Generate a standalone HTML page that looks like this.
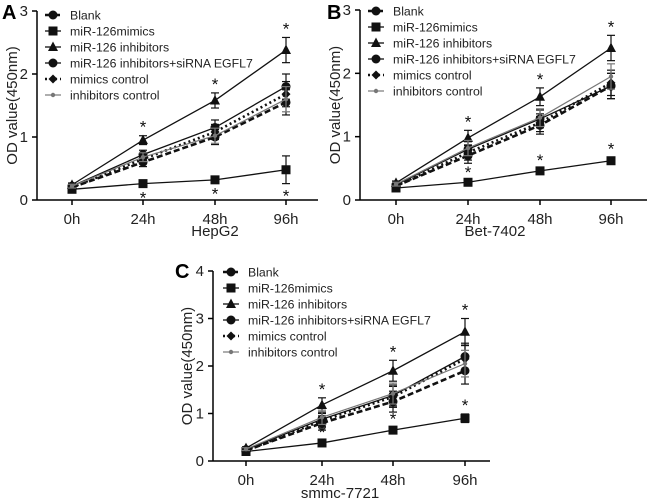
<!DOCTYPE html>
<html><head><meta charset="utf-8"><style>
html,body{margin:0;padding:0;background:#fff;}
svg{display:block;font-family:"Liberation Sans",Arial,sans-serif;}
</style></head><body>
<svg id="fig" width="650" height="500" viewBox="0 0 650 500"></svg>
<script>
const categories = ["0h","24h","48h","96h"];
const seriesNames = ["Blank","miR-126mimics","miR-126 inhibitors","miR-126 inhibitors+siRNA EGFL7","mimics control","inhibitors control"];
// Panel A (HepG2)
const aBlank = [0.2,0.6,1.0,1.55];
const aMimics = [0.17,0.26,0.32,0.48];
const aInhib = [0.24,0.95,1.58,2.38];
const aInhSi = [0.22,0.72,1.15,1.8];
const aMimCtrl = [0.2,0.65,1.08,1.68];
const aInhCtrl = [0.22,0.68,1.02,1.6];
const aErr = [0.03,0.07,0.12,0.2];
const aMimErr = [0.02,0.03,0.03,0.22];
// Panel B (Bet-7402)
const bBlank = [0.22,0.7,1.18,1.8];
const bMimics = [0.19,0.28,0.46,0.62];
const bInhib = [0.27,0.98,1.63,2.4];
const bInhSi = [0.24,0.8,1.28,1.8];
const bMimCtrl = [0.22,0.75,1.22,1.85];
const bInhCtrl = [0.25,0.82,1.3,1.95];
const bErr = [0.03,0.12,0.14,0.2];
const bMimErr = [0.02,0.02,0.03,0.05];
// Panel C (smmc-7721)
const cBlank = [0.22,0.8,1.25,1.9];
const cMimics = [0.2,0.38,0.65,0.9];
const cInhib = [0.27,1.18,1.9,2.72];
const cInhSi = [0.24,0.88,1.38,2.2];
const cMimCtrl = [0.22,0.85,1.35,2.15];
const cInhCtrl = [0.25,0.92,1.42,2.05];
const cErr = [0.03,0.15,0.22,0.28];
const cMimErr = [0.02,0.04,0.06,0.09];
const aTicks = [0,1,2,3], bTicks=[0,1,2,3], cTicks=[0,1,2,3,4];

const NS="http://www.w3.org/2000/svg";
const svg=document.getElementById('fig');
function mk(tag,attrs,parent){const e=document.createElementNS(NS,tag);for(const k in attrs)e.setAttribute(k,attrs[k]);(parent||svg).appendChild(e);return e;}
const styles=[
 {dash:"6,3",w:2.6,col:"#111",mk:"circle"},
 {dash:"",w:1.3,col:"#111",mk:"square"},
 {dash:"",w:1.3,col:"#111",mk:"triangle"},
 {dash:"",w:1.3,col:"#111",mk:"circle"},
 {dash:"2,3",w:2.6,col:"#111",mk:"diamond"},
 {dash:"",w:1.2,col:"#777",mk:"small"}
];
function marker(g,type,x,y,col){
 if(type==="circle")return mk('circle',{cx:x,cy:y,r:4.5,fill:col},g);
 if(type==="square")return mk('rect',{x:x-4.5,y:y-4.5,width:9,height:9,fill:col},g);
 if(type==="triangle")return mk('polygon',{points:`${x},${y-5.5} ${x-5},${y+4} ${x+5},${y+4}`,fill:col},g);
 if(type==="diamond")return mk('polygon',{points:`${x},${y-4.5} ${x-4.5},${y} ${x},${y+4.5} ${x+4.5},${y}`,fill:col},g);
 return mk('circle',{cx:x,cy:y,r:2.2,fill:col},g);
}
function panel(p){
 const g=mk('g',{});
 
 
 const ymax=p.ticks[p.ticks.length-1];
 const ys=v=>p.y0-(v/ymax)*(p.y0-p.ytop);
 const xs=i=>p.xt[i];
 const t=mk('text',{x:p.lx,y:p.ly,'font-size':20,'font-weight':'bold',fill:'#000'},g);t.textContent=p.id;
 
 const ya=mk('line',{x1:p.ax,y1:p.ytop,x2:p.ax,y2:p.y0,stroke:'#000','stroke-width':1.5},g);
 
 const xa=mk('line',{x1:p.ax,y1:p.y0,x2:p.xend,y2:p.y0,stroke:'#000','stroke-width':1.5},g);
 
 p.ticks.forEach(v=>{mk('line',{x1:p.ax-5,y1:ys(v),x2:p.ax,y2:ys(v),stroke:'#000','stroke-width':1.5},g);
  const tl=mk('text',{x:p.ax-9,y:ys(v)+5,'font-size':15,'text-anchor':'end',fill:'#222'},g);tl.textContent=v;
  });
 categories.forEach((c,i)=>{mk('line',{x1:xs(i),y1:p.y0,x2:xs(i),y2:p.y0+5,stroke:'#000','stroke-width':1.5},g);
  const tl=mk('text',{x:xs(i),y:p.y0+24,'font-size':15,'text-anchor':'middle',fill:'#222'},g);tl.textContent=c;
  });
 const xt=mk('text',{x:p.xtx,y:p.xty,'font-size':15,'text-anchor':'middle',fill:'#222'},g);xt.textContent=p.title;
 
 const yc=(p.ytop+p.y0)/2;
 const yt=mk('text',{x:p.ytx,y:yc,'font-size':15,'text-anchor':'middle',fill:'#222',transform:`rotate(-90 ${p.ytx} ${yc})`},g);yt.textContent="OD value(450nm)";
 
 p.series.forEach((s,si)=>{
  const st=styles[si];
  const sg=mk('g',{},g);
  
  s.forEach((v,i)=>{const e=si===1?p.mimErr[i]:p.err[i];
   mk('line',{x1:xs(i),y1:ys(v-e),x2:xs(i),y2:ys(v+e),stroke:st.col,'stroke-width':1.2},sg);
   mk('line',{x1:xs(i)-4,y1:ys(v+e),x2:xs(i)+4,y2:ys(v+e),stroke:st.col,'stroke-width':1.2},sg);
   mk('line',{x1:xs(i)-4,y1:ys(v-e),x2:xs(i)+4,y2:ys(v-e),stroke:st.col,'stroke-width':1.2},sg);});
  mk('polyline',{points:s.map((v,i)=>xs(i)+','+ys(v)).join(' '),fill:'none',stroke:st.col,'stroke-width':st.w,'stroke-dasharray':st.dash},sg);
  s.forEach((v,i)=>{const m=marker(sg,st.mk,xs(i),ys(v),st.col);
   });
 });
 for(let i=1;i<4;i++){
  const up=p.series[2][i]+p.err[i];
  const s1=mk('text',{x:xs(i),y:ys(up)-3,'font-size':17,'text-anchor':'middle',fill:'#111'},g);s1.textContent='*';
  
  const e=p.mimErr[i];
  const sy=p.starBelow?ys(p.series[1][i]-e)+18:ys(p.series[1][i]+e)-3;
  const s2=mk('text',{x:xs(i),y:sy,'font-size':17,'text-anchor':'middle',fill:'#111'},g);s2.textContent='*';
  
 }
 const lg=mk('g',{},g);
 seriesNames.forEach((n,i)=>{const st=styles[i];const y=p.legY+i*16;
  const e=mk('g',{},lg);
  mk('line',{x1:p.legX,y1:y,x2:p.legX+16,y2:y,stroke:st.col,'stroke-width':st.w,'stroke-dasharray':st.dash},e);
  marker(e,st.mk,p.legX+8,y,st.col);
  const tx=mk('text',{x:p.legX+25,y:y+4.5,'font-size':12.3,fill:'#222'},e);tx.textContent=n;});
}
panel({id:"A",lx:2,ly:19,ax:37,ytop:11,y0:200,xend:318,xt:[72,143,215,286],ticks:aTicks,title:"HepG2",xtx:215,xty:236,ytx:17,legX:45,legY:15,err:aErr,mimErr:aMimErr,starBelow:true,
 series:[aBlank,aMimics,aInhib,aInhSi,aMimCtrl,aInhCtrl]});
panel({id:"B",lx:327,ly:19,ax:360,ytop:10,y0:200,xend:647,xt:[396,468,540,611],ticks:bTicks,title:"Bet-7402",xtx:495,xty:236,ytx:340,legX:368,legY:11,err:bErr,mimErr:bMimErr,starBelow:false,
 series:[bBlank,bMimics,bInhib,bInhSi,bMimCtrl,bInhCtrl]});
panel({id:"C",lx:175,ly:278,ax:213,ytop:271,y0:461,xend:490,xt:[246,322,393,465],ticks:cTicks,title:"smmc-7721",xtx:340,xty:498,ytx:192,legX:223,legY:272,err:cErr,mimErr:cMimErr,starBelow:false,
 series:[cBlank,cMimics,cInhib,cInhSi,cMimCtrl,cInhCtrl]});
</script>
</body></html>
